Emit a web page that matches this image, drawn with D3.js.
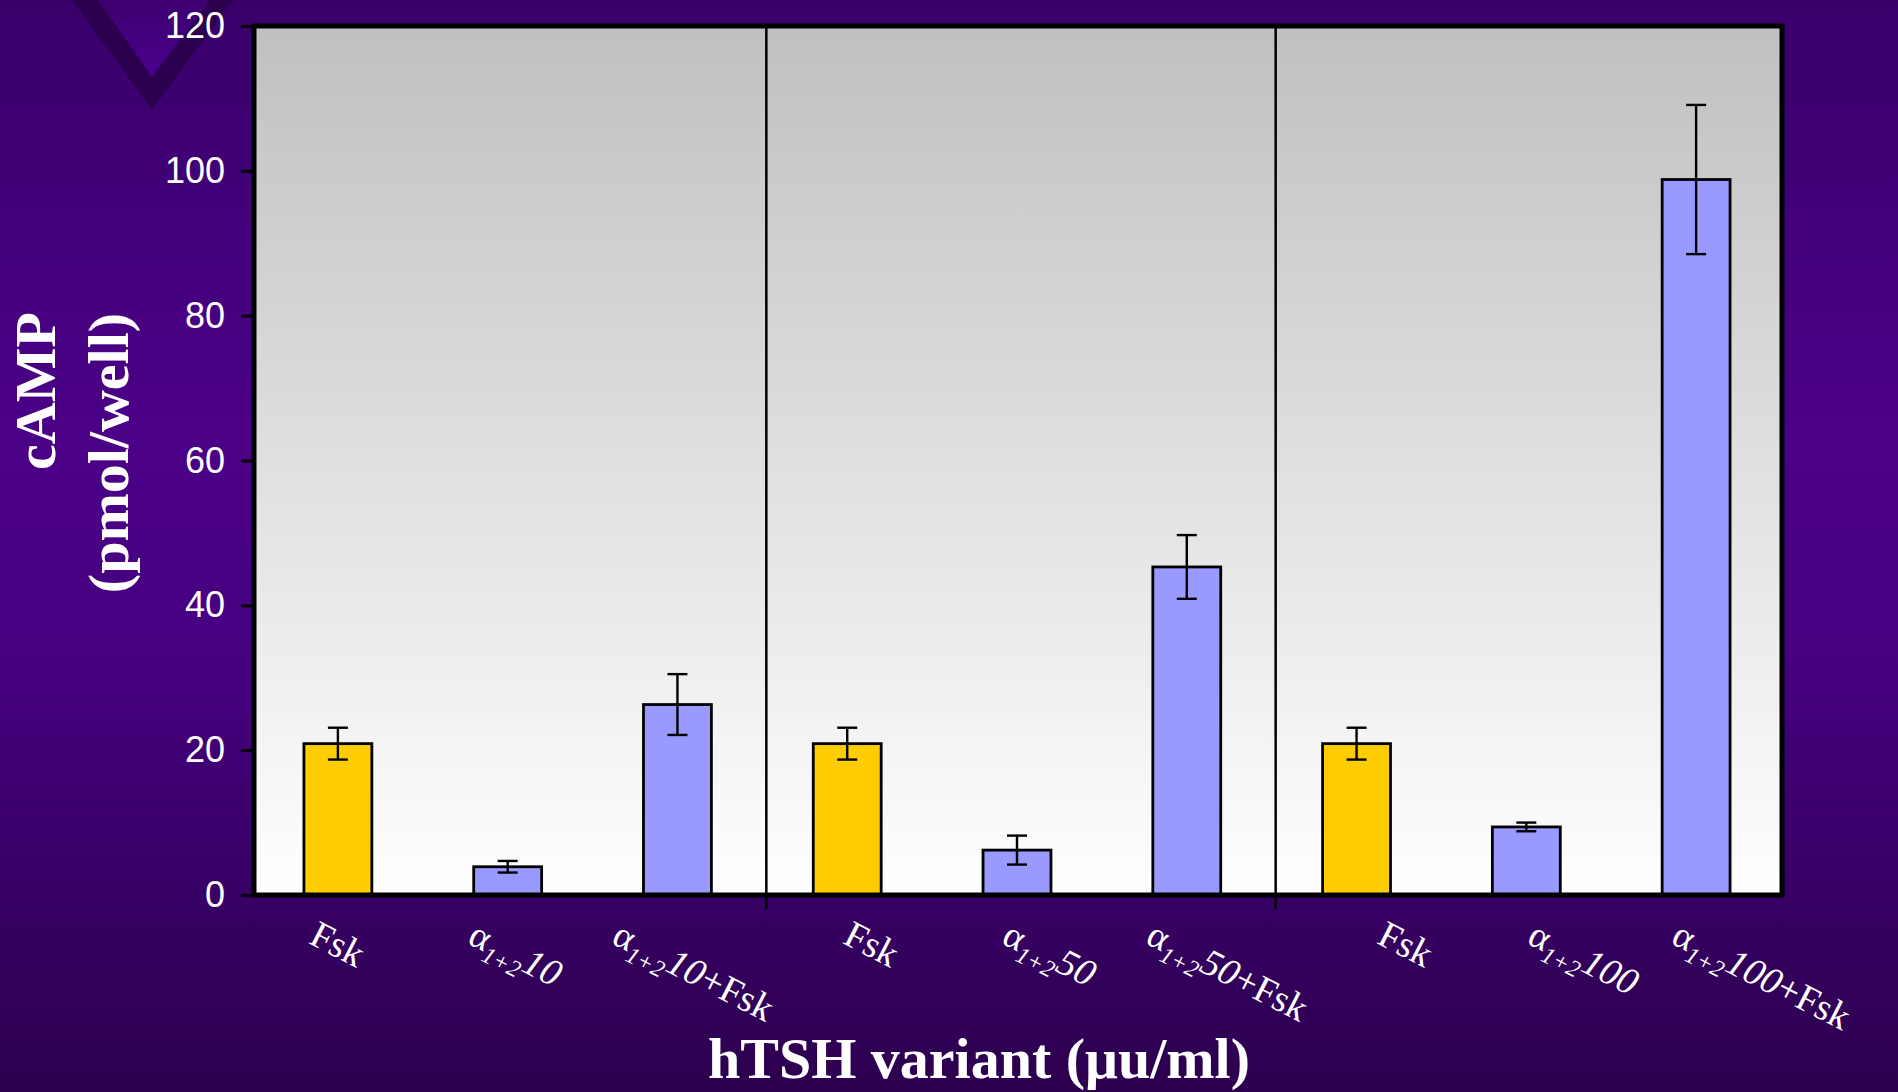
<!DOCTYPE html>
<html><head><meta charset="utf-8">
<script src="https://cdn.jsdelivr.net/npm/d3@7"></script>
<style>html,body{margin:0;padding:0;overflow:hidden;background:#3a006a}</style>
</head><body>
<svg id="chart" width="1898" height="1092"></svg>
<script>
// ---- data ----
const categories = ["Fsk", "α1+2 10", "α1+2 10+Fsk", "Fsk", "α1+2 50", "α1+2 50+Fsk", "Fsk", "α1+2 100", "α1+2 100+Fsk"];
const treatments = ["Fsk", "alpha", "alpha", "Fsk", "alpha", "alpha", "Fsk", "alpha", "alpha"];
const values = [20.9, 3.9, 26.3, 20.9, 6.2, 45.3, 20.9, 9.4, 98.8];
const errors = [2.2, 0.8, 4.2, 2.2, 2.0, 4.4, 2.2, 0.6, 10.3];
const yTicks = [0, 20, 40, 60, 80, 100, 120];
const groupBreaks = [3, 6];
const yTitle = ["cAMP", "(pmol/well)"];
const xTitle = "hTSH variant (μu/ml)";

const colors = {Fsk: "#FFCC00", alpha: "#9999FF"};
const W = 1898, H = 1092;
const plot = {left: 254, right: 1782, top: 26, bottom: 895};

const svg = d3.select("#chart");
const defs = svg.append("defs");
const bg = defs.append("linearGradient").attr("id", "bg").attr("x1", 0).attr("y1", 0).attr("x2", 0).attr("y2", 1);
[[0, "#39006a"], [0.4, "#4b0088"], [0.6, "#460080"], [1, "#2c004e"]].forEach(s => bg.append("stop").attr("offset", s[0]).attr("stop-color", s[1]));
const pg = defs.append("linearGradient").attr("id", "pg").attr("x1", 0).attr("y1", 0).attr("x2", 0).attr("y2", 1);
[[0, "#c0c0c0"], [1, "#ffffff"]].forEach(s => pg.append("stop").attr("offset", s[0]).attr("stop-color", s[1]));
const tri = defs.append("linearGradient").attr("id", "tri").attr("x1", 0).attr("y1", 0).attr("x2", 0).attr("y2", 1);
[[0, "#3e0070"], [1, "#4a008c"]].forEach(s => tri.append("stop").attr("offset", s[0]).attr("stop-color", s[1]));

svg.append("rect").attr("width", W).attr("height", H).attr("fill", "url(#bg)");
// decorative chevron
svg.append("path").attr("d", "M72,0 L152,110 L233,0 Z").attr("fill", "#2a004f");
svg.append("path").attr("d", "M98,0 L152,77 L210,0 Z").attr("fill", "url(#tri)");

// ---- scales ----
const x = d3.scaleBand().domain(d3.range(categories.length)).range([plot.left - 1, plot.right - 1]).paddingInner(0.6).paddingOuter(0.3);
const y = d3.scaleLinear().domain([0, 120]).range([plot.bottom, plot.top]);
const labelX = d3.scalePoint().domain(d3.range(categories.length)).range([338, 1762]);

// plot area
svg.append("rect").attr("x", plot.left).attr("y", plot.top).attr("width", plot.right - plot.left).attr("height", plot.bottom - plot.top).attr("fill", "url(#pg)");

// separators
const gapHalf = (x.step() - x.bandwidth()) / 2;
svg.selectAll("line.sep").data(groupBreaks).join("line").attr("class", "sep")
  .attr("x1", d => x(d) - gapHalf + 4).attr("x2", d => x(d) - gapHalf + 4)
  .attr("y1", plot.top).attr("y2", plot.bottom + 14)
  .attr("stroke", "#000").attr("stroke-width", 2.5);

// bars
svg.selectAll("rect.bar").data(values).join("rect").attr("class", "bar")
  .attr("x", (d, i) => x(i)).attr("width", x.bandwidth())
  .attr("y", d => y(d)).attr("height", d => y(0) - y(d))
  .attr("fill", (d, i) => colors[treatments[i]]).attr("stroke", "#000").attr("stroke-width", 2.8);

// error bars
const eb = svg.selectAll("g.err").data(values).join("g").attr("class", "err")
  .attr("stroke", "#000").attr("stroke-width", 2.4);
const cx = i => x(i) + x.bandwidth() / 2;
eb.append("line").attr("x1", (d, i) => cx(i)).attr("x2", (d, i) => cx(i)).attr("y1", (d, i) => y(d - errors[i])).attr("y2", (d, i) => y(d + errors[i]));
eb.append("line").attr("x1", (d, i) => cx(i) - 10).attr("x2", (d, i) => cx(i) + 10).attr("y1", (d, i) => y(d + errors[i])).attr("y2", (d, i) => y(d + errors[i]));
eb.append("line").attr("x1", (d, i) => cx(i) - 10).attr("x2", (d, i) => cx(i) + 10).attr("y1", (d, i) => y(d - errors[i])).attr("y2", (d, i) => y(d - errors[i]));

// frame
svg.append("rect").attr("x", plot.left).attr("y", plot.top).attr("width", plot.right - plot.left).attr("height", plot.bottom - plot.top)
  .attr("fill", "none").attr("stroke", "#000").attr("stroke-width", 5);

// y axis
const yAxis = svg.append("g").attr("transform", `translate(${plot.left - 2},0)`)
  .call(d3.axisLeft(y).tickValues(yTicks).tickSize(11).tickPadding(16));
yAxis.select(".domain").remove();
yAxis.selectAll(".tick line").attr("stroke", "#000").attr("stroke-width", 3);
yAxis.selectAll(".tick text").attr("fill", "#fff").attr("font-family", "'Liberation Sans', Arial, sans-serif").attr("font-size", 36);

// x labels
const ang = 27;
categories.forEach((c, i) => {
  const t = svg.append("text").attr("font-family", "'Liberation Serif', 'Times New Roman', serif").attr("font-size", 38)
    .attr("fill", "#fff").attr("text-anchor", "middle");
  if (c.startsWith("α")) {
    const rest = c.split(" ")[1];
    const m = rest.match(/^(\d+)(.*)$/);
    t.append("tspan").text("α");
    t.append("tspan").attr("font-size", 24).attr("font-style", "italic").attr("dy", 9).text("1+2");
    t.append("tspan").attr("font-style", "italic").attr("dy", -9).text(m[1]);
    if (m[2]) t.append("tspan").text(m[2]);
  } else {
    t.text(c);
  }
  const L = t.node().getComputedTextLength();
  const cy = 931 + (L / 2) * Math.sin(ang * Math.PI / 180);
  t.attr("dy", "0.35em").attr("transform", `translate(${labelX(i)},${cy}) rotate(${ang})`);
});

// titles
const tf = "'Liberation Serif', 'Times New Roman', serif";
svg.append("text").attr("transform", "translate(55,391) rotate(-90)").attr("text-anchor", "middle")
  .attr("font-family", tf).attr("font-weight", "bold").attr("font-size", 58).attr("fill", "#fff").text(yTitle[0]);
svg.append("text").attr("transform", "translate(128,453) rotate(-90)").attr("text-anchor", "middle")
  .attr("font-family", tf).attr("font-weight", "bold").attr("font-size", 58).attr("fill", "#fff").text(yTitle[1]);
svg.append("text").attr("x", 979).attr("y", 1078).attr("text-anchor", "middle")
  .attr("font-family", tf).attr("font-weight", "bold").attr("font-size", 58).attr("fill", "#fff").text(xTitle);
</script>
</body></html>
